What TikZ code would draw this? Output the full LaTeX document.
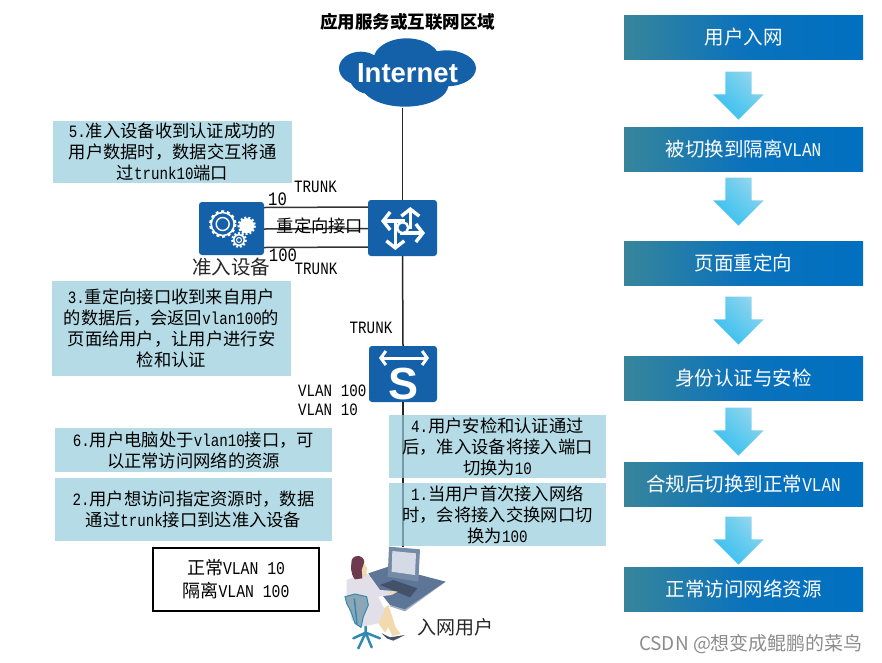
\documentclass[tikz,border=0pt]{standalone}
\usepackage{fontspec}
\usepackage{tikz}
\setmainfont{Noto Sans CJK SC}
\newfontfamily\latf[FakeStretch=0.82]{Liberation Mono}
\newfontfamily\iconf{Liberation Sans}
\usetikzlibrary{arrows.meta}
\usetikzlibrary{shapes.arrows}
\usetikzlibrary{shadings}
\definecolor{iconblue}{HTML}{1561A9}
\definecolor{infoblue}{HTML}{94CCDB}
\definecolor{deskblue}{HTML}{5D7596}
\definecolor{screenblue}{HTML}{D5DBE6}
\definecolor{chairblue}{HTML}{2F8BB0}
\definecolor{chairgray}{HTML}{8DA6B5}
\definecolor{coatgray}{HTML}{E3DFE8}
\definecolor{hairred}{HTML}{6E3A50}
\definecolor{skintone}{HTML}{F2D9AE}
\definecolor{stageleft}{HTML}{37859B}
\definecolor{stagemid}{HTML}{0B72BC}
\definecolor{stageright}{HTML}{0070C0}
\definecolor{arrowdark}{HTML}{2ABCF1}
\definecolor{arrowmid}{HTML}{5AC8EE}
\definecolor{arrowlight}{HTML}{A9DCEE}
\newcommand{\gearring}[3]{%
	\draw[white,line width=1.6pt] #1 circle (#2);
	\draw[white,line width=2.2pt,dash pattern=on #3 off #3] #1 circle (#2+1.2);
}

\begin{document}
\begin{tikzpicture}[x=1pt,y=-1pt,
			every node/.style={inner sep=0pt,align=center,font=\fontsize{17.3}{21}\selectfont},
			infobox/.style={fill=infoblue,fill opacity=.7,text opacity=1},
			stagebox/.style={minimum width=239pt,minimum height=44pt,left color=stageleft,right color=stageright,middle color=stagemid,text=white,font=\fontsize{19.5}{22}\selectfont},
			flowarrow/.style={single arrow,shape border rotate=270,inner sep=13pt,single arrow head extend=12pt,minimum width=50pt,minimum height=48pt,lower left=arrowdark,upper right=arrowlight,lower right=arrowmid,upper left=arrowmid},
			devbox/.style={fill=iconblue,rounded corners=3pt},
			trunklink/.style={line width=1.5pt,draw=black!80},
			iconarrow/.style={white,line width=3.4pt,-{Straight Barb[length=7pt,width=18pt,line width=3.4pt]}},
		]
		\useasboundingbox (0,0) rectangle (882,662);

		\node[font=\fontsize{17.5}{20}\selectfont\bfseries] (areatitle) at (407.5,22) {应用服务或互联网区域};

		% cloud
		\begin{scope}[shift={(330,30)},x=.3333pt,y=-.3333pt]
			\fill[iconblue] (92,115) ellipse (65 and 50);
			\fill[iconblue] (230,90) ellipse (100 and 65);
			\fill[iconblue] (350,115) ellipse (88 and 54);
			\fill[iconblue] (225,165) ellipse (130 and 65);
			\fill[iconblue] (125,145) ellipse (65 and 48);
		\end{scope}
		\node[minimum width=137pt,minimum height=70pt,text=white,font=\fontsize{27.5}{30}\selectfont\iconf\bfseries] (inet) at (407.5,73) {Internet};

		\node[devbox,minimum width=69pt,minimum height=56pt] (routerdev) at (402.5,228) {};
		\node[devbox,minimum width=68pt,minimum height=56pt] (switchdev) at (403,374) {};
		\node[devbox,minimum width=65pt,minimum height=53pt] (gatedev) at (231.5,228.5) {};
		\coordinate (pcuser) at (403,547);

		\draw[line width=1.5pt,draw=black!85] (routerdev.north) -- (routerdev.north |- inet.south);
		\draw[line width=1.5pt,draw=black!85] (routerdev.south) -- (switchdev.north);
		\draw[line width=1.5pt,draw=black!85] (switchdev.south) -- (pcuser);
		\draw[trunklink] ([yshift=21pt]gatedev.east) -- ([yshift=21pt]routerdev.west);
		\draw[trunklink] ([yshift=-.5pt]gatedev.east) -- ([yshift=-.5pt]routerdev.west);
		\draw[trunklink] ([yshift=-19pt]gatedev.east) -- ([yshift=-19pt]routerdev.west);

		% router icon
		\draw[iconarrow] (410.3,229) -- (410.3,207);
		\draw[iconarrow] (405,221) -- (381,221);
		\draw[iconarrow] (400,233) -- (425,233);
		\draw[iconarrow] (395.3,222) -- (395.3,250);
		\draw[white,fill=iconblue,line width=2.4pt] (402.7,227.7) circle (5.5);

		% switch icon
		\draw[white,line width=3pt,{Straight Barb[length=5pt,width=14pt,line width=3pt]}-{Straight Barb[length=5pt,width=14pt,line width=3pt]}] (379,358) -- (429,358);
		\node[text=white,font=\fontsize{45}{47}\selectfont\iconf\bfseries] (switchmark) at (404,384) {S};

		% gear icon
		\gearring{(222.7,224)}{11.5}{2.9pt}
		\draw[white,line width=1.4pt] (222.7,224) circle (6.5);
		\fill[white] (246.7,225.7) circle (7.5);
		\draw[white,line width=2pt,dash pattern=on 2pt off 2pt] (246.7,225.7) circle (8.2);
		\gearring{(239,240)}{5.5}{1.9pt}
		\draw[white,line width=1pt] (239,240) circle (2.5);

		\node[font=\fontsize{19.5}{22}\selectfont,text=black!85] (gatelabel) at (231,267) {准入设备};
		\node[font=\fontsize{19}{22}\selectfont] (portten) at (277.5,199) {\latf 10};
		\node[font=\fontsize{19}{22}\selectfont] (porthundred) at (283,255) {\latf 100};
		\node (trunktop) at (315.5,187) {\latf TRUNK};
		\node (trunkbottom) at (316,269) {\latf TRUNK};
		\node (redirectport) at (320,226) {重定向接口};
		\node (trunkswitch) at (371,328) {\latf TRUNK};
		\node[anchor=west] (vlanhundred) at (298,391) {\latf VLAN 100};
		\node[anchor=west] (vlanten) at (298,410) {\latf VLAN 10};

		\node[infobox,minimum width=239pt,minimum height=62pt] (stepfive) at (172.5,152) {{\latf 5.}准入设备收到认证成功的\\用户数据时，数据交互将通\\过{\latf trunk10}端口};
		\node[infobox,minimum width=239pt,minimum height=95pt] (stepthree) at (171.5,328.5) {{\latf 3.}重定向接口收到来自用户\\的数据后，会返回{\latf vlan100}的\\页面给用户，让用户进行安\\检和认证};
		\node[infobox,minimum width=277pt,minimum height=44pt] (stepsix) at (193.5,450) {{\latf 6.}用户电脑处于{\latf vlan10}接口，可\\以正常访问网络的资源};
		\node[infobox,minimum width=277pt,minimum height=63pt] (steptwo) at (193.5,509.5) {{\latf 2.}用户想访问指定资源时，数据\\通过{\latf trunk}接口到达准入设备};
		\node[infobox,minimum width=217pt,minimum height=63pt] (stepfour) at (497.5,446.5) {{\latf 4.}用户安检和认证通过\\后，准入设备将接入端口\\切换为{\latf 10}};
		\node[infobox,minimum width=217pt,minimum height=63pt] (stepone) at (497.5,514.5) {{\latf 1.}当用户首次接入网络\\时，会将接入交换网口切\\换为{\latf 100}};
		\node[draw=black,line width=1.2pt,minimum width=166pt,minimum height=63pt,font=\fontsize{18}{23}\selectfont] (vlanlegend) at (236,579.5) {正常{\latf VLAN 10}\\隔离{\latf VLAN 100}};

		% user at the desk
		\begin{scope}[shift={(335,540)},x=.3333pt,y=-.3333pt]
			\fill[deskblue] (100,100) -- (160,80) -- (332,125) -- (210,210) -- (165,195) -- (130,150) -- cycle;
			\fill[deskblue!60] (332,125) -- (210,214) -- (165,199) -- (165,195) -- (210,208) -- cycle;
			\fill[deskblue!85!white] (162,20) -- (255,28) -- (250,125) -- (158,110) -- cycle;
			\fill[screenblue] (172,33) -- (243,40) -- (240,105) -- (170,95) -- cycle;
			\fill[deskblue!70!black] (135,135) -- (175,120) -- (247,145) -- (225,172) -- cycle;
			\draw[chairblue,line width=2.5pt,line cap=round] (92,278) -- (55,295) (92,278) -- (70,325) (92,278) -- (110,322) (92,278) -- (135,295) (92,278) -- (92,255);
			\fill[skintone] (135,215) -- (160,195) -- (182,262) -- (197,282) -- (172,288) -- (160,262) -- (150,278) -- (130,250) -- cycle;
			\fill[deskblue!70!black] (140,280) -- (165,292) -- (210,285) -- (175,302) -- (155,295) -- cycle;
			\fill[coatgray] (35,120) -- (60,110) -- (95,100) -- (110,115) -- (135,150) -- (165,152) -- (170,165) -- (130,170) -- (150,210) -- (130,250) -- (75,262) -- (50,240) -- (35,170) -- cycle;
			\fill[skintone] (82,60) -- (97,85) -- (92,110) -- (72,105) -- cycle;
			\fill[skintone] (165,152) -- (188,155) -- (170,165) -- cycle;
			\fill[hairred] (50,60) .. controls (60,40) and (85,45) .. (88,65) -- (80,90) -- (82,115) -- (60,118) .. controls (45,100) and (48,80) .. (50,60) -- cycle;
			\filldraw[fill=chairgray,draw=chairblue,line width=1pt] (30,170) -- (60,162) -- (95,170) -- (100,195) -- (85,230) -- (78,262) -- (60,250) -- (48,215) -- (35,190) -- cycle;
			\draw[chairblue,line width=1.5pt] (58,175) -- (66,252);
		\end{scope}
		\node[font=\fontsize{19}{22}\selectfont,text=black!85] (userlabel) at (455,627) {入网用户};

		\node[stagebox] (stageone) at (743.5,37) {用户入网};
		\node[stagebox] (stagetwo) at (743.5,149) {被切换到隔离{\latf VLAN}};
		\node[stagebox] (stagethree) at (743.5,263.5) {页面重定向};
		\node[stagebox] (stagefour) at (743.5,378.5) {身份认证与安检};
		\node[stagebox] (stagefive) at (743.5,484) {合规后切换到正常{\latf VLAN}};
		\node[stagebox] (stagesix) at (743.5,589) {正常访问网络资源};

		\node[flowarrow] (flowone) at (738.5,89) {};
		\node[flowarrow] (flowtwo) at (738.5,195) {};
		\node[flowarrow] (flowthree) at (738.5,314) {};
		\node[flowarrow] (flowfour) at (738.5,425) {};
		\node[flowarrow] (flowfive) at (738.5,534) {};

		\node[text=black!45,font=\fontsize{19}{22}\selectfont] (csdnmark) at (751,644) {CSDN @想变成鲲鹏的菜鸟};
\end{tikzpicture}
\end{document}
